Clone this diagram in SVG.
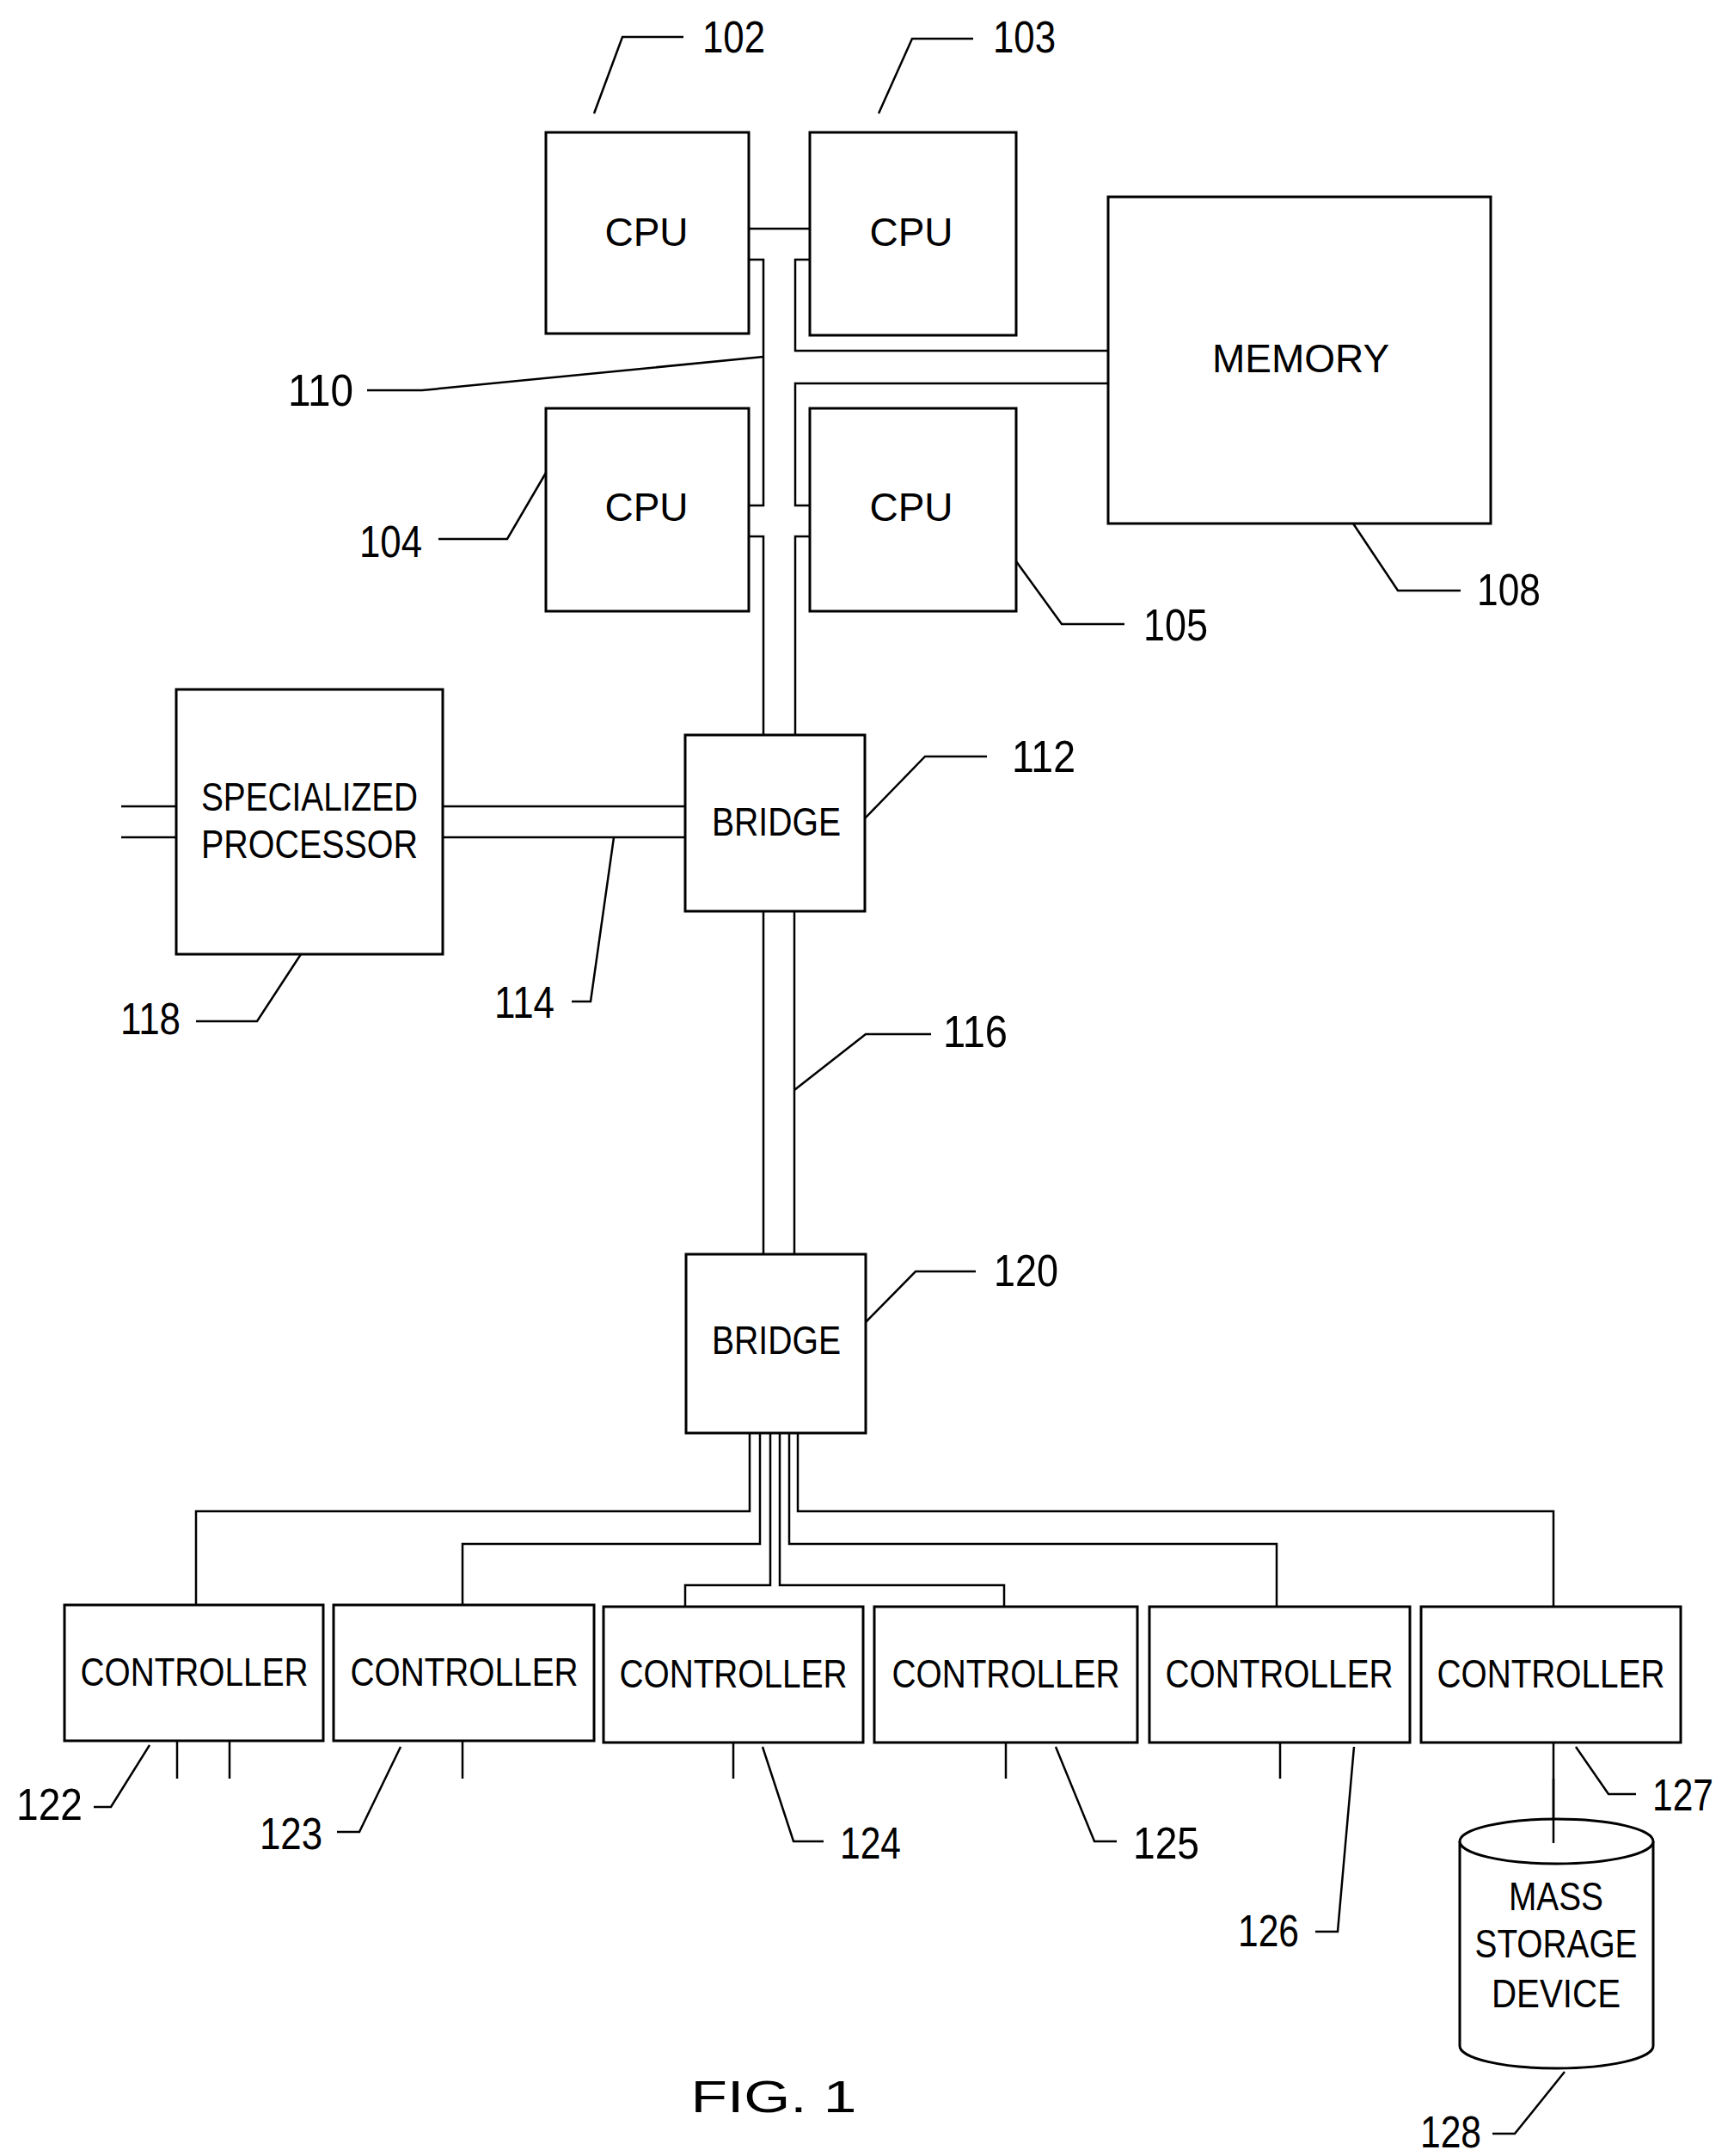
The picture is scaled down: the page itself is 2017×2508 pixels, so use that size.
<svg xmlns="http://www.w3.org/2000/svg" width="2017" height="2508" viewBox="0 0 2017 2508">
<style>
.b{fill:#fff;stroke:#000;stroke-width:3}
.l{fill:none;stroke:#000;stroke-width:2.5}
.t{font-family:"Liberation Sans",Arial,sans-serif;font-size:46px;text-anchor:middle;fill:#000}
.n{font-family:"Liberation Sans",Arial,sans-serif;font-size:52px;fill:#000}
</style>
<rect width="2017" height="2508" fill="#fff"/>
<g id="connectors" class="l">
<path d="M871,266H942"/>
<path d="M871,302H888V588H871M871,624H888V855"/>
<path d="M942,302H925V408H1289M1289,446H925V588H942M942,624H925V855"/>
<path d="M141,938H205M141,974H205M515,938H797M515,974H797"/>
<path d="M888,1060V1459M924,1060V1459"/>
<path d="M872,1667V1758H228V1867"/>
<path d="M884,1667V1796H538V1867"/>
<path d="M896,1667V1844H797V1869"/>
<path d="M907,1667V1844H1168V1869"/>
<path d="M918,1667V1796H1485V1869"/>
<path d="M928,1667V1758H1807V1869"/>
<path d="M206,2025V2069M267,2025V2069M538,2025V2069M853,2025V2069M1170,2025V2069M1489,2025V2069M1807,2025V2144"/>
</g>
<g id="leaders" class="l">
<path d="M691,132L724,43H795"/>
<path d="M1022,132L1061,45H1132"/>
<path d="M888,415L491,454H427"/>
<path d="M635,550L590,627H510"/>
<path d="M1182,653L1235,726H1308"/>
<path d="M1574,609L1626,687H1699"/>
<path d="M1006,952L1076,880H1148"/>
<path d="M714,974L687,1165H665"/>
<path d="M350,1110L299,1188H228"/>
<path d="M924,1268L1007,1203H1083"/>
<path d="M1007,1538L1065,1479H1135"/>
<path d="M174,2030L129,2102H109"/>
<path d="M466,2032L418,2131H392"/>
<path d="M887,2032L923,2142H958"/>
<path d="M1228,2032L1273,2142H1299"/>
<path d="M1575,2032L1556,2247H1530"/>
<path d="M1833,2032L1871,2087H1903"/>
<path d="M1820,2410L1762,2482H1736"/>
</g>
<g id="cpu102"><rect class="b" x="635" y="154" width="236" height="234"/><text class="t" x="752" y="286">CPU</text></g>
<g id="cpu103"><rect class="b" x="942" y="154" width="240" height="236"/><text class="t" x="1060" y="286">CPU</text></g>
<g id="cpu104"><rect class="b" x="635" y="475" width="236" height="236"/><text class="t" x="752" y="606">CPU</text></g>
<g id="cpu105"><rect class="b" x="942" y="475" width="240" height="236"/><text class="t" x="1060" y="606">CPU</text></g>
<g id="memory"><rect class="b" x="1289" y="229" width="445" height="380"/><text class="t" x="1513" y="433" font-size="48">MEMORY</text></g>
<g id="specproc"><rect class="b" x="205" y="802" width="310" height="308"/><text class="t" x="360" y="943" textLength="252" lengthAdjust="spacingAndGlyphs">SPECIALIZED</text><text class="t" x="360" y="998" textLength="252" lengthAdjust="spacingAndGlyphs">PROCESSOR</text></g>
<g id="bridge112"><rect class="b" x="797" y="855" width="209" height="205"/><text class="t" x="903" y="972" textLength="150" lengthAdjust="spacingAndGlyphs">BRIDGE</text></g>
<g id="bridge120"><rect class="b" x="798" y="1459" width="209" height="208"/><text class="t" x="903" y="1575" textLength="150" lengthAdjust="spacingAndGlyphs">BRIDGE</text></g>
<g id="ctrl122"><rect class="b" x="75" y="1867" width="301" height="158"/><text class="t" x="226" y="1961" textLength="265" lengthAdjust="spacingAndGlyphs">CONTROLLER</text></g>
<g id="ctrl123"><rect class="b" x="388" y="1867" width="303" height="158"/><text class="t" x="540" y="1961" textLength="265" lengthAdjust="spacingAndGlyphs">CONTROLLER</text></g>
<g id="ctrl124"><rect class="b" x="702" y="1869" width="302" height="158"/><text class="t" x="853" y="1963" textLength="265" lengthAdjust="spacingAndGlyphs">CONTROLLER</text></g>
<g id="ctrl125"><rect class="b" x="1017" y="1869" width="306" height="158"/><text class="t" x="1170" y="1963" textLength="265" lengthAdjust="spacingAndGlyphs">CONTROLLER</text></g>
<g id="ctrl126"><rect class="b" x="1337" y="1869" width="303" height="158"/><text class="t" x="1488" y="1963" textLength="265" lengthAdjust="spacingAndGlyphs">CONTROLLER</text></g>
<g id="ctrl127"><rect class="b" x="1653" y="1869" width="302" height="158"/><text class="t" x="1804" y="1963" textLength="265" lengthAdjust="spacingAndGlyphs">CONTROLLER</text></g>
<g id="storage128">
<path class="b" d="M1698,2142V2380A112.5,26 0 0 0 1923,2380V2142"/>
<ellipse class="b" cx="1810.5" cy="2142" rx="112.5" ry="26" fill="none"/>
<path class="l" d="M1807,2069V2144"/>
<text class="t" x="1810" y="2222" textLength="110" lengthAdjust="spacingAndGlyphs">MASS</text>
<text class="t" x="1810" y="2277" textLength="189" lengthAdjust="spacingAndGlyphs">STORAGE</text>
<text class="t" x="1810" y="2335" textLength="150" lengthAdjust="spacingAndGlyphs">DEVICE</text>
</g>
<g id="labels">
<text class="n" x="817" y="61" textLength="73" lengthAdjust="spacingAndGlyphs">102</text>
<text class="n" x="1155" y="61" textLength="73" lengthAdjust="spacingAndGlyphs">103</text>
<text class="n" x="335" y="472" textLength="76" lengthAdjust="spacingAndGlyphs">110</text>
<text class="n" x="418" y="648" textLength="73" lengthAdjust="spacingAndGlyphs">104</text>
<text class="n" x="1330" y="745" textLength="75" lengthAdjust="spacingAndGlyphs">105</text>
<text class="n" x="1718" y="704" textLength="74" lengthAdjust="spacingAndGlyphs">108</text>
<text class="n" x="1177" y="898" textLength="74" lengthAdjust="spacingAndGlyphs">112</text>
<text class="n" x="575" y="1184" textLength="70" lengthAdjust="spacingAndGlyphs">114</text>
<text class="n" x="140" y="1203" textLength="70" lengthAdjust="spacingAndGlyphs">118</text>
<text class="n" x="1097" y="1218" textLength="75" lengthAdjust="spacingAndGlyphs">116</text>
<text class="n" x="1156" y="1496" textLength="75" lengthAdjust="spacingAndGlyphs">120</text>
<text class="n" x="19" y="2117" textLength="77" lengthAdjust="spacingAndGlyphs">122</text>
<text class="n" x="302" y="2151" textLength="73" lengthAdjust="spacingAndGlyphs">123</text>
<text class="n" x="977" y="2162" textLength="71" lengthAdjust="spacingAndGlyphs">124</text>
<text class="n" x="1318" y="2162" textLength="77" lengthAdjust="spacingAndGlyphs">125</text>
<text class="n" x="1440" y="2264" textLength="71" lengthAdjust="spacingAndGlyphs">126</text>
<text class="n" x="1922" y="2106" textLength="71" lengthAdjust="spacingAndGlyphs">127</text>
<text class="n" x="1652" y="2498" textLength="71" lengthAdjust="spacingAndGlyphs">128</text>
<text class="n" x="900" y="2457" font-size="72" text-anchor="middle" textLength="193" lengthAdjust="spacingAndGlyphs">FIG. 1</text>
</g>
</svg>
